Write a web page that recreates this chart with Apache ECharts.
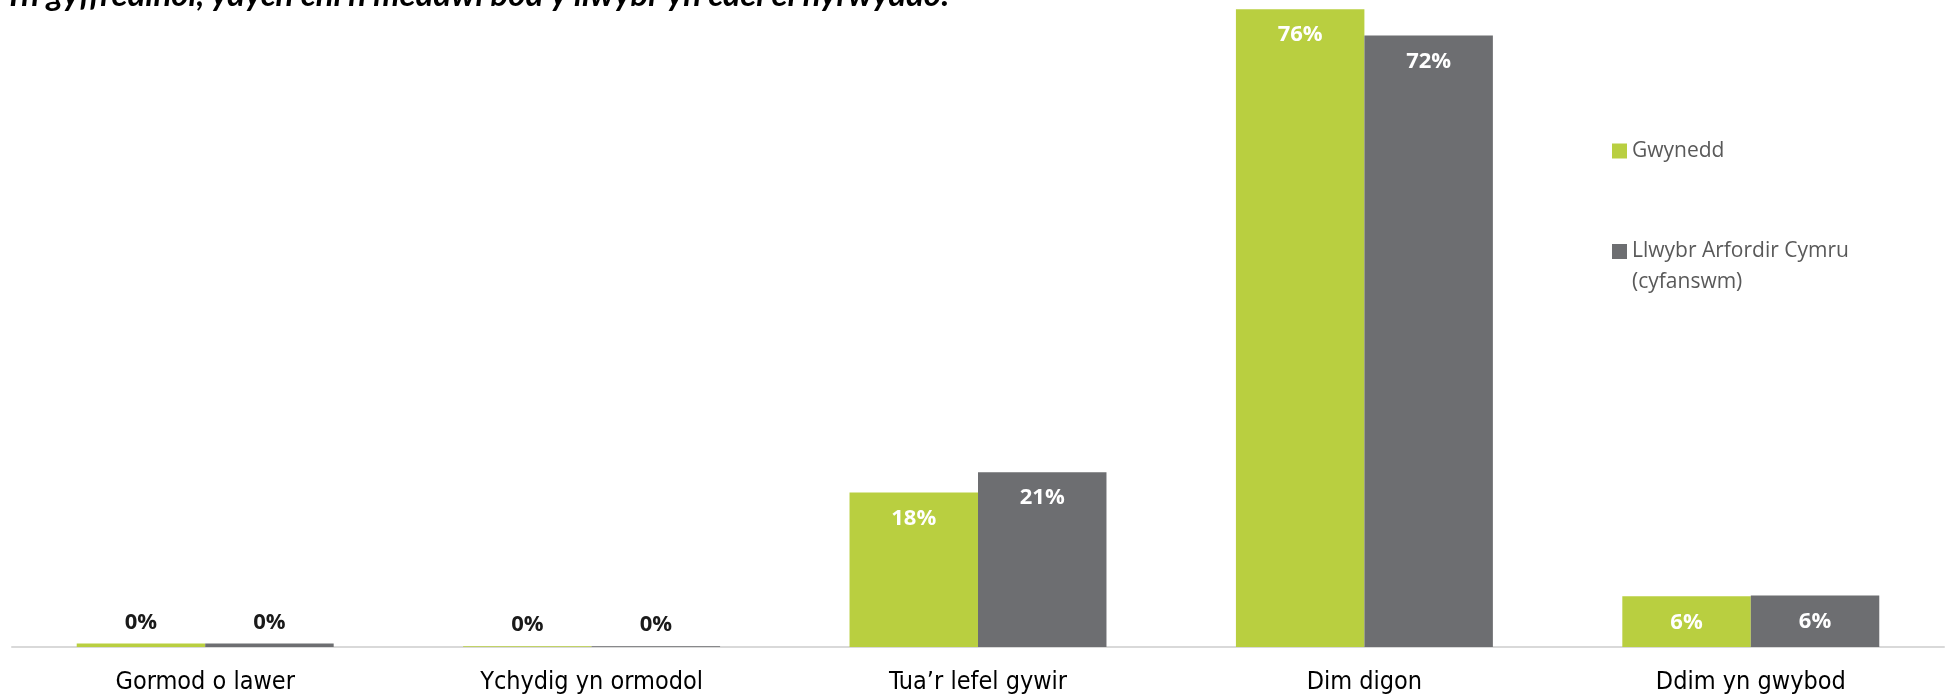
<!DOCTYPE html>
<html>
<head>
<meta charset="utf-8">
<script src="https://cdn.jsdelivr.net/npm/echarts@6/dist/echarts.min.js"></script>
<style>html,body{margin:0;padding:0;background:#fff}#c{width:1949px;height:697px}</style>
</head>
<body>
<div id="c"></div>
<script>
const titleText = 'Yn gyffredinol, ydych chi’n meddwl bod y llwybr yn cael ei hyrwyddo:';
const categories = ['Gormod o lawer', 'Ychydig yn ormodol', 'Tua’r lefel gywir', 'Dim digon', 'Ddim yn gwybod'];
const seriesNames = ['Gwynedd', 'Llwybr Arfordir Cymru (cyfanswm)'];
const gwynedd = [0.4, 0.1, 18.3, 75.5, 6.0];
const cyfanswm = [0.4, 0.1, 20.7, 72.4, 6.1];
const colors = ['#B9CF40', '#6D6E71'];

const chart = echarts.init(document.getElementById('c'));
function makeData(arr) {
  return arr.map(v => {
    const inside = v >= 3;
    return {
      value: v,
      label: inside
        ? { position: 'insideTop', distance: 15, color: '#ffffff' }
        : { position: 'top', distance: 10, color: '#1a1a1a' }
    };
  });
}
const labelCommon = {
  show: true,
  fontFamily: 'Open Sans',
  fontWeight: 'bold',
  fontSize: 22,
  formatter: p => Math.round(p.value) + '%'
};
const legendText = { color: '#595959', fontFamily: 'Open Sans', fontSize: 21 };
chart.setOption({
  animation: false,
  title: {
    text: titleText, left: 4, top: -21, padding: 0,
    textStyle: { fontFamily: 'Lato', fontStyle: 'italic', fontWeight: 'bold', fontSize: 33, lineHeight: 33, color: '#000' }
  },
  grid: { left: 12, right: 5, top: 5, bottom: 50, containLabel: false },
  legend: [
    {
      data: [seriesNames[0]], orient: 'vertical', left: 1612, top: 138, padding: 0,
      itemWidth: 15, itemHeight: 15, icon: 'rect', itemGap: 0,
      textStyle: Object.assign({ lineHeight: 26 }, legendText)
    },
    {
      data: [seriesNames[1]], orient: 'vertical', left: 1612, top: 205, padding: 0,
      itemWidth: 15, itemHeight: 15, icon: 'rect', itemGap: 0,
      formatter: n => '\n' + n.replace(' (', '\n('),
      textStyle: Object.assign({ lineHeight: 31 }, legendText)
    }
  ],
  xAxis: {
    type: 'category', data: categories,
    axisLine: { show: true, lineStyle: { color: '#D9D9D9', width: 2 } },
    axisTick: { show: false },
    axisLabel: { margin: 23, fontFamily: 'Liberation Sans Narrow, DejaVu Sans Condensed, sans-serif', fontSize: 25, color: '#000' }
  },
  yAxis: { type: 'value', min: 0, max: 76, show: false, splitLine: { show: false } },
  series: [
    { name: seriesNames[0], type: 'bar', data: makeData(gwynedd), itemStyle: { color: colors[0] },
      barGap: '0%', barCategoryGap: '33.5%', label: labelCommon },
    { name: seriesNames[1], type: 'bar', data: makeData(cyfanswm), itemStyle: { color: colors[1] },
      barGap: '0%', barCategoryGap: '33.5%', label: labelCommon }
  ]
});
</script>
</body>
</html>
